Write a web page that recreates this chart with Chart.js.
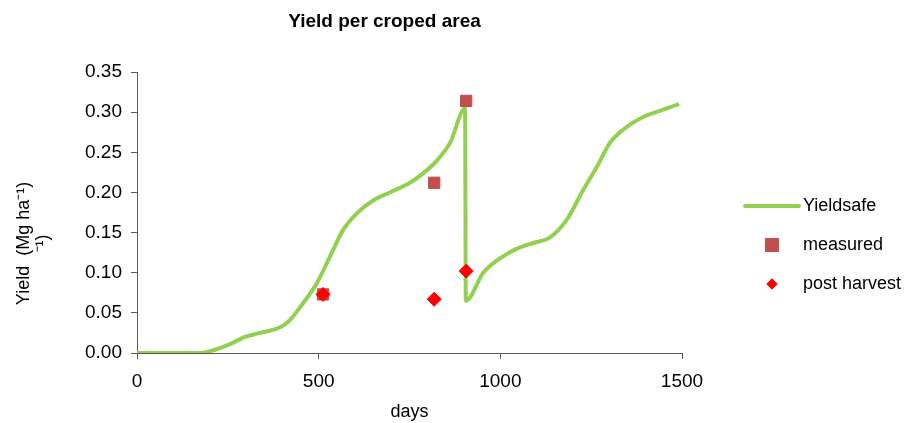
<!DOCTYPE html>
<html>
<head>
<meta charset="utf-8">
<script src="https://cdn.jsdelivr.net/npm/chart.js@4"></script>
<style>
  body { margin: 0; background: #fff; }
  #wrap { position: relative; width: 921px; height: 423px; }
  #legend { position: absolute; left: 740px; top: 186px; font-family: "Liberation Sans", Arial, sans-serif; font-size: 18px; color: #000; }
  .item { height: 39px; display: flex; align-items: center; }
  .mark { width: 63px; display: flex; justify-content: center; align-items: center; }
</style>
</head>
<body>
<div id="wrap">
  <canvas id="chart" width="921" height="423"></canvas>
  <div id="legend"></div>
</div>
<script>
// Yieldsafe simulated curve (days / Mg ha-1)
const yieldDays = [0, 100, 175, 215, 256, 297, 338, 394, 421, 457, 495, 531, 567, 605, 650, 696, 751, 788, 826, 862, 903,
                   905, 953, 999, 1046, 1091, 1137, 1183, 1228, 1266, 1302, 1349, 1393, 1448, 1492];
const yieldValues = [0, 0, 0, 0.004, 0.011, 0.02, 0.025, 0.032, 0.041, 0.062, 0.087, 0.12, 0.153, 0.174, 0.19, 0.2, 0.212, 0.224, 0.24, 0.262, 0.305,
                     0.065, 0.1, 0.118, 0.13, 0.137, 0.144, 0.166, 0.203, 0.232, 0.262, 0.282, 0.294, 0.303, 0.31];

const measuredDays = [512, 818, 906];
const measuredValues = [0.073, 0.212, 0.314];

const postDays = [512, 818, 906];
const postValues = [0.073, 0.067, 0.102];

const xTicks = [0, 500, 1000, 1500];

const toPoints = (xs, ys) => xs.map((x, i) => ({ x: x, y: ys[i] }));

const FONT = '"Liberation Sans", Arial, sans-serif';

const textPlugin = {
  id: 'texts',
  afterDraw(chart) {
    const ctx = chart.ctx;
    const a = chart.chartArea;
    ctx.save();
    ctx.fillStyle = '#000';
    ctx.textAlign = 'center';
    ctx.textBaseline = 'middle';
    ctx.font = 'bold 19px ' + FONT;
    ctx.fillText('Yield per croped area', (a.left + a.right) / 2 - 25, 22);
    // y axis title, two lines, rotated
    ctx.translate(0, (a.top + a.bottom) / 2 + 31);
    ctx.rotate(-Math.PI / 2);
    ctx.font = '18px ' + FONT;
    ctx.fillText('Yield  (Mg ha\u207B\u00B9)', 0, 24);
    ctx.fillText('\u207B\u00B9)', 0, 43);
    ctx.restore();
  }
};

const datasets = [
  {
    label: 'Yieldsafe',
    data: toPoints(yieldDays, yieldValues),
    borderColor: '#92d050',
    backgroundColor: '#92d050',
    borderWidth: 4,
    pointRadius: 0,
    cubicInterpolationMode: 'monotone',
    showLine: true,
    order: 3
  },
  {
    label: 'measured',
    data: toPoints(measuredDays, measuredValues),
    pointStyle: 'rect',
    pointRadius: 8,
    backgroundColor: '#c0504d',
    borderColor: '#c0504d',
    showLine: false,
    order: 2
  },
  {
    label: 'post harvest',
    data: toPoints(postDays, postValues),
    pointStyle: 'rectRot',
    pointRadius: 7,
    backgroundColor: '#ff0000',
    borderColor: '#ff0000',
    showLine: false,
    order: 1
  }
];

new Chart(document.getElementById('chart'), {
  type: 'scatter',
  data: { datasets: datasets },
  options: {
    responsive: false,
    animation: false,
    layout: { padding: { top: 72, right: 239, left: 8, bottom: 0 } },
    plugins: {
      legend: { display: false },
      tooltip: { enabled: false }
    },
    scales: {
      x: {
        type: 'linear',
        min: 0,
        max: 1500,
        afterBuildTicks: s => { s.ticks = xTicks.map(v => ({ value: v })); },
        ticks: { color: '#000', font: { family: FONT, size: 19 }, padding: 11, callback: v => String(v) },
        grid: { drawOnChartArea: false, drawTicks: true, tickLength: 6, color: '#595959' },
        border: { color: '#595959', width: 1 },
        title: { display: true, text: 'days', color: '#000', font: { family: FONT, size: 18 }, padding: { top: 8, bottom: 0 } },
        afterFit: s => { s.height = 423 - 353; }
      },
      y: {
        min: 0,
        max: 0.35,
        ticks: { stepSize: 0.05, color: '#000', font: { family: FONT, size: 19 }, padding: 9,
                 callback: v => v.toFixed(2) },
        grid: { drawOnChartArea: false, drawTicks: true, tickLength: 6, color: '#595959' },
        border: { color: '#595959', width: 1 },
        afterFit: s => { s.width = 137 - 8; }
      }
    }
  },
  plugins: [textPlugin]
});

// legend
const legend = document.getElementById('legend');
datasets.forEach(ds => {
  const row = document.createElement('div');
  row.className = 'item';
  const mark = document.createElement('div');
  mark.className = 'mark';
  const m = document.createElement('div');
  if (ds.showLine) {
    m.style.cssText = 'width:58px;height:4px;border-radius:2px;background:' + ds.borderColor;
  } else if (ds.pointStyle === 'rect') {
    m.style.cssText = 'width:14px;height:14px;background:' + ds.backgroundColor;
  } else {
    m.style.cssText = 'width:8px;height:8px;transform:rotate(45deg);background:' + ds.backgroundColor;
  }
  mark.appendChild(m);
  const label = document.createElement('span');
  label.textContent = ds.label;
  row.appendChild(mark);
  row.appendChild(label);
  legend.appendChild(row);
});
</script>
</body>
</html>
